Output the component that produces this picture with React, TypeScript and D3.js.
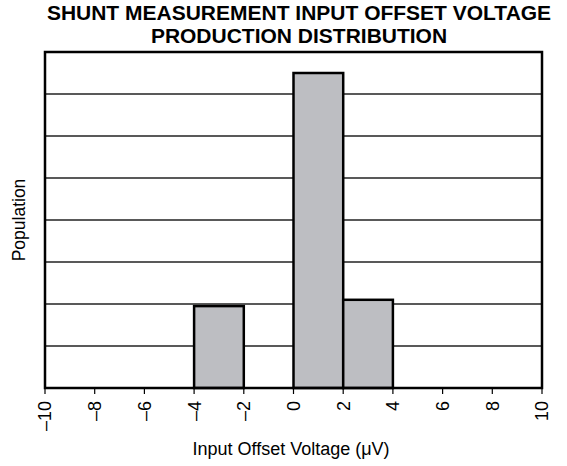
import React from "react";
import * as d3 from "d3";

const titleLines = ["SHUNT MEASUREMENT INPUT OFFSET VOLTAGE", "PRODUCTION DISTRIBUTION"];
const binStarts = [-4, 0, 2];
const binEnds = [-2, 2, 4];
const binCounts = [1.95, 7.5, 2.1];
const xTicks = [-10, -8, -6, -4, -2, 0, 2, 4, 6, 8, 10];
const yGrid = [1, 2, 3, 4, 5, 6, 7];
const xTitle = "Input Offset Voltage (\u03bcV)";
const yTitle = "Population";

const W = 567;
const H = 466;
const L = 45, R = 542, T = 52, B = 388;
const FONT = "'Liberation Sans', Arial, Helvetica, sans-serif";

export default function App() {
  const x = d3.scaleLinear().domain([-10, 10]).range([L, R]);
  const y = d3.scaleLinear().domain([0, 8]).range([B, T]);
  const fmt = (v: number) => (v < 0 ? "\u2013" + Math.abs(v) : String(v));
  return (
    <svg width={W} height={H} style={{ position: "absolute", left: 0, top: 0, background: "#fff" }} fontFamily={FONT}>
      <rect x={0} y={0} width={W} height={H} fill="#fff" />
      {titleLines.map((t, i) => (
        <g key={i} transform={`translate(299,${20 + i * 22.5}) scale(1.05,1)`}>
          <text x={0} y={0} textAnchor="middle" fontWeight="bold" fontSize={20} fill="#000">
            {t}
          </text>
        </g>
      ))}
      {yGrid.map((g) => (
        <line key={g} x1={L} x2={R} y1={y(g)} y2={y(g)} stroke="#222" strokeWidth={1.3} />
      ))}
      {binCounts.map((c, i) => (
        <rect
          key={i}
          x={x(binStarts[i])}
          y={y(c)}
          width={x(binEnds[i]) - x(binStarts[i])}
          height={y(0) - y(c)}
          fill="#bdbec2"
          stroke="#000"
          strokeWidth={2.5}
        />
      ))}
      <rect x={L} y={T} width={R - L} height={B - T} fill="none" stroke="#000" strokeWidth={2.5} />
      {xTicks.map((t) => (
        <g key={t}>
          <line x1={x(t)} x2={x(t)} y1={B} y2={B + 6} stroke="#000" strokeWidth={1.2} />
          <text
            transform={`translate(${x(t)},${B + 13}) rotate(-90)`}
            textAnchor="end"
            dy="0.36em"
            fontSize={18}
            fill="#000"
          >
            {fmt(t)}
          </text>
        </g>
      ))}
      <text x={291} y={455} textAnchor="middle" fontSize={18} fill="#000">
        {xTitle}
      </text>
      <text transform={`translate(25,220) rotate(-90)`} textAnchor="middle" fontSize={17.5} fill="#000">
        {yTitle}
      </text>
    </svg>
  );
}
